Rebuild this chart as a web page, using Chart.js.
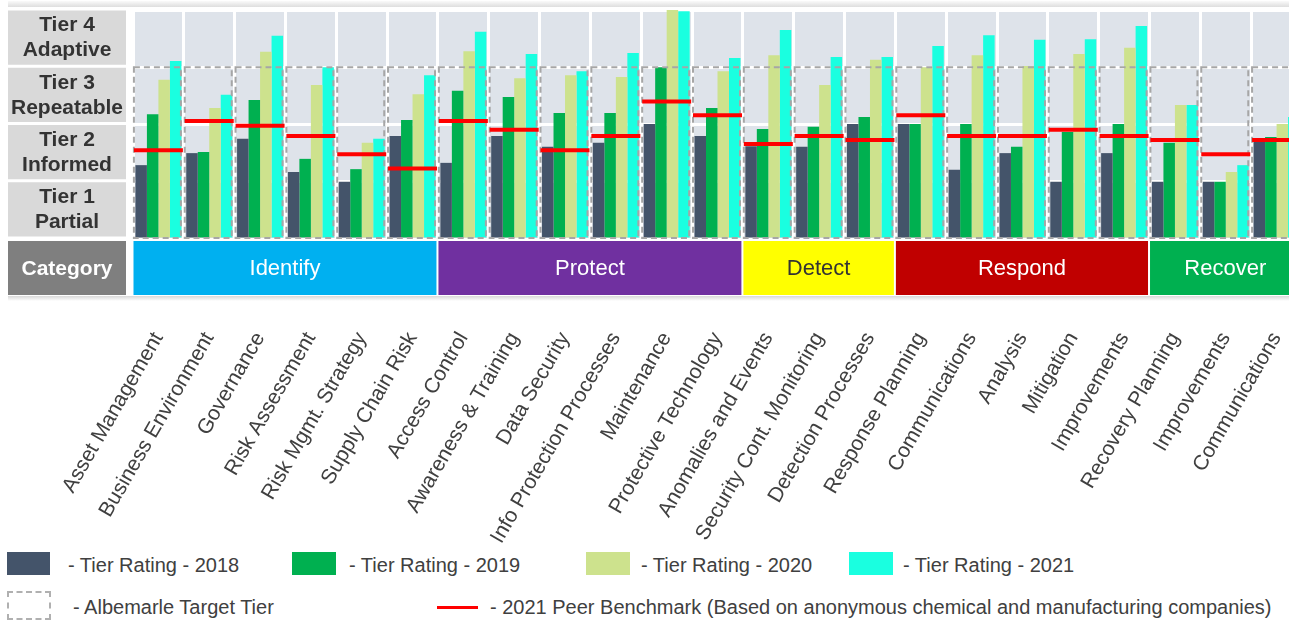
<!DOCTYPE html>
<html>
<head>
<meta charset="utf-8">
<script src="https://cdn.jsdelivr.net/npm/chart.js@4.4.1/dist/chart.umd.min.js"></script>
<style>
  html, body { margin:0; padding:0; background:#fff; width:1289px; height:620px; overflow:hidden; }
  #wrap { position:absolute; left:0; top:0; width:1305px; height:545px; }
  .lg { position:absolute; font-family:"Liberation Sans", Arial, sans-serif; font-size:20px; color:#404040; white-space:nowrap; line-height:24px; }
  .sw { position:absolute; }
</style>
</head>
<body>
<div id="wrap"><canvas id="c" width="1305" height="545"></canvas></div>

<div class="sw" style="left:7px;top:552px;width:43px;height:23px;background:#44546a"></div>
<div class="lg" style="left:68px;top:553px">- Tier Rating - 2018</div>
<div class="sw" style="left:292px;top:552px;width:44px;height:23px;background:#00b050"></div>
<div class="lg" style="left:349px;top:553px">- Tier Rating - 2019</div>
<div class="sw" style="left:586px;top:552px;width:44px;height:23px;background:#cde28d"></div>
<div class="lg" style="left:641px;top:553px">- Tier Rating - 2020</div>
<div class="sw" style="left:849px;top:552px;width:44px;height:23px;background:#1affe0"></div>
<div class="lg" style="left:903px;top:553px">- Tier Rating - 2021</div>

<div class="sw" style="left:7px;top:591px;width:40px;height:25px;border:2px dashed #b0b0b0"></div>
<div class="lg" style="left:73px;top:595px">- Albemarle Target Tier</div>
<div class="sw" style="left:437px;top:606px;width:41px;height:3px;background:#ff0000"></div>
<div class="lg" style="left:490px;top:595px">- 2021 Peer Benchmark (Based on anonymous chemical and manufacturing companies)</div>

<script>
// ---------- data ----------
const categories = ["Asset Management","Business Environment","Governance","Risk Assessment","Risk Mgmt. Strategy","Supply Chain Risk",
  "Access Control","Awareness & Training","Data Security","Info Protection Processes","Maintenance","Protective Technology",
  "Anomalies and Events","Security Cont. Monitoring","Detection Processes",
  "Response Planning","Communications","Analysis","Mitigation","Improvements",
  "Recovery Planning","Improvements","Communications"];
const tier2018 = [1.29,1.50,1.75,1.17,1.00,1.80, 1.33,1.80,1.61,1.68,2.01,1.80, 1.62,1.61,2.01, 2.01,1.21,1.50,1.00,1.50, 1.00,1.00,1.73];
const tier2019 = [2.18,1.52,2.43,1.40,1.22,2.08, 2.59,2.48,2.20,2.20,3.00,2.29, 1.92,1.96,2.13, 2.01,2.01,1.61,1.87,2.01, 1.68,1.00,1.78];
const tier2020 = [2.78,2.29,3.27,2.69,1.68,2.53, 3.28,2.81,2.86,2.83,4.00,2.93, 3.21,2.69,3.13, 3.00,3.21,3.02,3.23,3.34, 2.34,1.17,2.01];
const tier2021 = [3.11,2.52,3.55,3.00,1.75,2.86, 3.62,3.23,2.93,3.25,3.98,3.16, 3.65,3.18,3.18, 3.37,3.56,3.48,3.49,3.72, 2.34,1.29,2.13];
const peerBenchmark = [1.55,2.06,1.98,1.80,1.48,1.23, 2.06,1.91,1.55,1.80,2.40,2.16, 1.66,1.80,1.73, 2.16,1.80,1.80,1.91,1.80, 1.73,1.48,1.73];
const targetTier = [3,3,3,3,3,3, 3,3,3,3,3,3, 3,3,3, 3,3,3,3,3, 3,3,3];
const tierNames = [["Tier 1","Partial"],["Tier 2","Informed"],["Tier 3","Repeatable"],["Tier 4","Adaptive"]];
const groupNames = ["Identify","Protect","Detect","Respond","Recover"];
const groupSizes = [6,6,3,5,3];

// ---------- styles ----------
const groupColors = ["#00b0f0","#7030a0","#ffff00","#c00000","#00b050"];
const groupTextColors = ["#ffffff","#ffffff","#333333","#ffffff","#ffffff"];
const FONT = '"Liberation Sans", Arial, sans-serif';

const decorPlugin = {
  id: 'decor',
  beforeDraw(chart) {
    const {ctx, chartArea: a} = chart;
    ctx.save();
    ctx.fillStyle = '#ffffff';
    ctx.fillRect(0, 0, chart.width, chart.height);
    const g = ctx.createLinearGradient(0, 1, 0, 7);
    g.addColorStop(0, '#fafafa'); g.addColorStop(1, '#dedede');
    ctx.fillStyle = g;
    ctx.fillRect(8, 1, chart.width, 6);
    ctx.fillStyle = '#dee3ea';
    ctx.fillRect(a.left, a.top, a.right - a.left, a.bottom - a.top);
    ctx.restore();
  },
  beforeDatasetDraw(chart, args) {
    if (args.index !== 4) return;
    const {ctx} = chart;
    const xs = chart.scales.x, ys = chart.scales.y;
    const pitch = xs.getPixelForValue(1) - xs.getPixelForValue(0);
    ctx.save();
    ctx.strokeStyle = '#a6a6a6';
    ctx.lineWidth = 2;
    ctx.setLineDash([6, 4]);
    targetTier.forEach((t, i) => {
      const cx = xs.getPixelForValue(i) - 1;
      const w = pitch * 0.925;
      const top = ys.getPixelForValue(t);
      const bot = ys.getPixelForValue(0);
      ctx.strokeRect(cx - w / 2, top, w, bot - top - 1);
    });
    ctx.restore();
  },
  afterDraw(chart) {
    const {ctx, chartArea: a} = chart;
    const xs = chart.scales.x, ys = chart.scales.y;
    const pitch = xs.getPixelForValue(1) - xs.getPixelForValue(0);
    ctx.save();
    ctx.textAlign = 'center';
    ctx.textBaseline = 'middle';
    for (let k = 1; k <= 4; k++) {
      const top = ys.getPixelForValue(k) + 0.5;
      const bot = ys.getPixelForValue(k - 1) - 2.5;
      ctx.fillStyle = '#d9d9d9';
      ctx.fillRect(8, top, 118, bot - top);
      ctx.fillStyle = '#333333';
      ctx.font = 'bold 21px ' + FONT;
      const cy = (top + bot) / 2;
      ctx.fillText(tierNames[k - 1][0], 67, cy - 12);
      ctx.fillText(tierNames[k - 1][1], 67, cy + 13);
    }
    const bTop = a.bottom + 2, bBot = a.bottom + 56;
    ctx.fillStyle = '#7f7f7f';
    ctx.fillRect(8, bTop, 118, bBot - bTop);
    ctx.fillStyle = '#ffffff';
    ctx.font = 'bold 21px ' + FONT;
    ctx.fillText('Category', 67, (bTop + bBot) / 2 + 1);
    let start = 0;
    groupNames.forEach((name, gi) => {
      const end = start + groupSizes[gi] - 1;
      const l = xs.getPixelForValue(start) - pitch / 2 + 0.5;
      const r = xs.getPixelForValue(end) + pitch / 2 - 1.5;
      ctx.fillStyle = groupColors[gi];
      ctx.fillRect(l, bTop, r - l, bBot - bTop);
      ctx.fillStyle = groupTextColors[gi];
      ctx.font = '22px ' + FONT;
      ctx.fillText(name, (l + r) / 2, (bTop + bBot) / 2 + 1);
      start = end + 1;
    });
    const g2 = ctx.createLinearGradient(0, bBot + 1, 0, bBot + 6);
    g2.addColorStop(0, '#d8d8d8'); g2.addColorStop(1, '#ffffff');
    ctx.fillStyle = g2;
    ctx.fillRect(8, bBot + 1, chart.width, 5);
    ctx.restore();
  }
};

new Chart(document.getElementById('c'), {
  type: 'bar',
  data: {
    labels: categories,
    datasets: [
      { label: 'Tier Rating - 2018', data: tier2018, backgroundColor: '#44546a', order: 1 },
      { label: 'Tier Rating - 2019', data: tier2019, backgroundColor: '#00b050', order: 1 },
      { label: 'Tier Rating - 2020', data: tier2020, backgroundColor: '#cde28d', order: 1 },
      { label: 'Tier Rating - 2021', data: tier2021, backgroundColor: '#1affe0', order: 1 },
      { type: 'line', label: '2021 Peer Benchmark', data: peerBenchmark, showLine: false,
        pointStyle: 'line', pointRadius: 24.5, pointHoverRadius: 24.5, pointBorderWidth: 4,
        pointBorderColor: '#ff0000', borderColor: '#ff0000', backgroundColor: '#ff0000', order: 0 }
    ]
  },
  options: {
    responsive: false,
    animation: false,
    events: [],
    layout: { autoPadding: false, padding: { top: 10, right: 3, left: 0, bottom: 0 } },
    datasets: { bar: { categoryPercentage: 0.905, barPercentage: 1.0, borderWidth: 0 } },
    plugins: { legend: { display: false }, tooltip: { enabled: false } },
    scales: {
      x: {
        grid: { color: '#ffffff', lineWidth: 3, offset: true, drawTicks: true, tickLength: 86, tickColor: 'rgba(0,0,0,0)' },
        border: { display: false },
        ticks: { autoSkip: false, minRotation: 60, maxRotation: 60, padding: 3, color: '#404040',
                 font: { family: FONT, size: 21 } },
        afterFit(s) { s.height = 306; s.paddingLeft = 0; s.paddingRight = 0; }
      },
      y: {
        min: 0, max: 4,
        ticks: { display: false, stepSize: 1 },
        grid: { color: '#ffffff', lineWidth: 3, drawTicks: false },
        border: { display: false },
        afterFit(s) { s.width = 133; s.paddingTop = 0; s.paddingBottom = 0; }
      }
    }
  },
  plugins: [decorPlugin]
});
</script>
</body>
</html>
